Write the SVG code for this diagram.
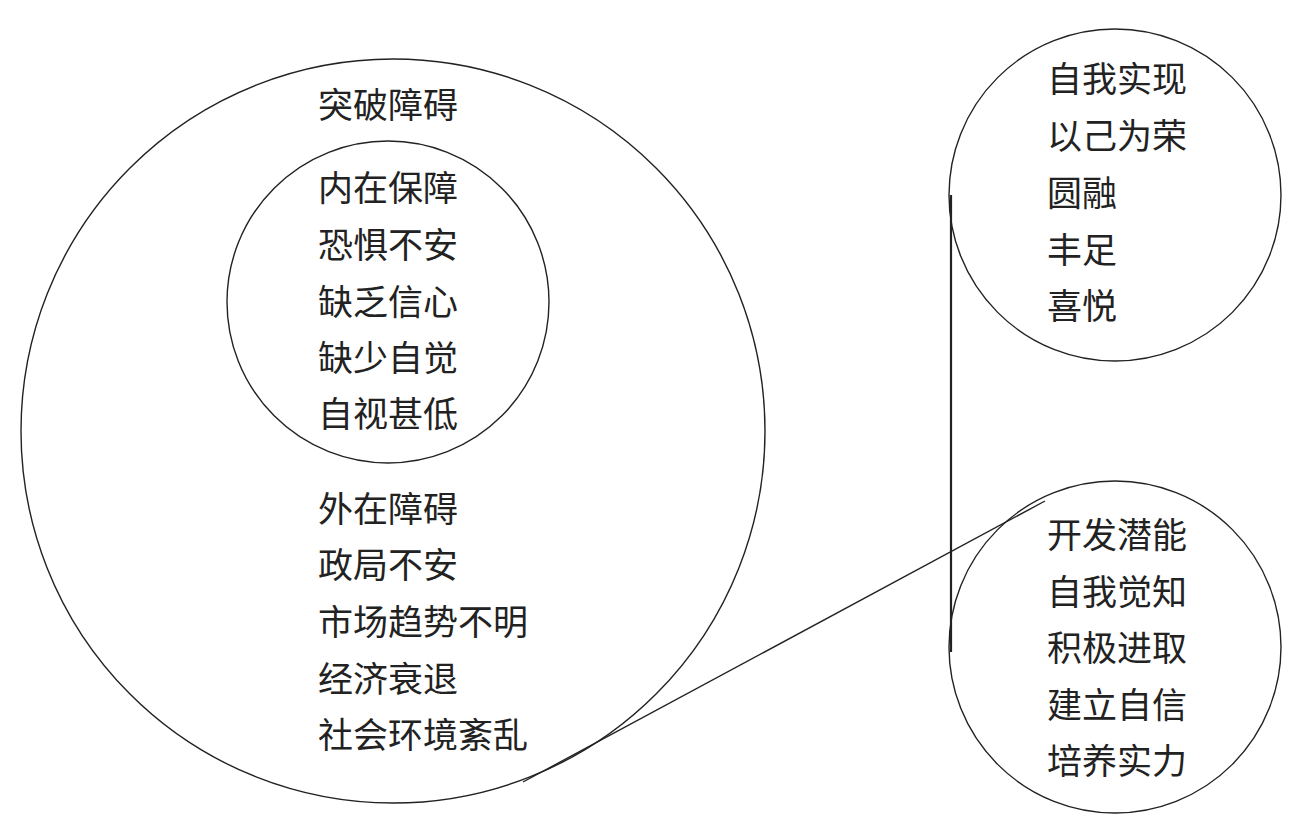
<svg xmlns="http://www.w3.org/2000/svg" width="1310" height="830" viewBox="0 0 1310 830">
<style>
.c{fill:none;stroke:#222;stroke-width:1.4}
.t{font-family:"Noto Sans CJK SC","Noto Sans CJK TC",sans-serif;font-size:35px;fill:#222}
.l{stroke:#222;fill:none}
</style>
<rect width="1310" height="830" fill="#fff"/>
<g id="outer">
<circle class="c" cx="393" cy="431" r="372"/>
<text class="t" x="318" y="118">突破障碍</text>
<text class="t" x="318" y="522">外在障碍</text>
<text class="t" x="318" y="578">政局不安</text>
<text class="t" x="318" y="635">市场趋势不明</text>
<text class="t" x="318" y="692">经济衰退</text>
<text class="t" x="318" y="748">社会环境紊乱</text>
</g>
<g id="inner">
<circle class="c" cx="388" cy="302" r="161"/>
<text class="t" x="318" y="201">内在保障</text>
<text class="t" x="318" y="258">恐惧不安</text>
<text class="t" x="318" y="315">缺乏信心</text>
<text class="t" x="318" y="371">缺少自觉</text>
<text class="t" x="318" y="427">自视甚低</text>
</g>
<g id="top-right">
<circle class="c" cx="1115" cy="195" r="166"/>
<text class="t" x="1047" y="92">自我实现</text>
<text class="t" x="1047" y="149">以己为荣</text>
<text class="t" x="1047" y="206">圆融</text>
<text class="t" x="1047" y="263">丰足</text>
<text class="t" x="1047" y="319">喜悦</text>
</g>
<g id="bottom-right">
<circle class="c" cx="1115" cy="647" r="166"/>
<text class="t" x="1047" y="548">开发潜能</text>
<text class="t" x="1047" y="605">自我觉知</text>
<text class="t" x="1047" y="661">积极进取</text>
<text class="t" x="1047" y="718">建立自信</text>
<text class="t" x="1047" y="774">培养实力</text>
</g>
<g id="connectors">
<line class="l" x1="951" y1="195" x2="951" y2="652" stroke-width="2.2"/>
<line class="l" x1="523" y1="782" x2="1045" y2="501" stroke-width="1.4"/>
</g>
</svg>
